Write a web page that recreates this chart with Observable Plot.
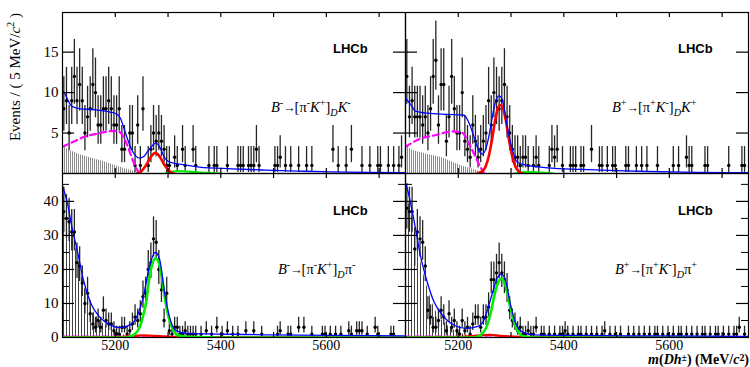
<!DOCTYPE html>
<html><head><meta charset="utf-8">
<script src="https://cdn.jsdelivr.net/npm/d3@7"></script>
<script src="https://cdn.jsdelivr.net/npm/@observablehq/plot@0.6"></script>
<style>
body{margin:0;background:#fff;}
#chart{position:relative;width:750px;height:367px;overflow:hidden;font-family:"Liberation Serif","Times New Roman",serif;color:#000;}
.panel{position:absolute;}
.lbl{position:absolute;white-space:nowrap;line-height:1;}
.lbl sup{font-size:70%;vertical-align:0;position:relative;top:-0.55em;}
.lbl sub{font-size:70%;vertical-align:0;position:relative;top:0.35em;}
.lbl sup.low{top:-0.3em;}
.lhcb{font-family:"Liberation Sans",Arial,sans-serif;font-weight:bold;font-size:13px;}
.decay{font-size:14.5px;}
.arr{font-size:85%;letter-spacing:-1px;}
</style></head><body><div id="chart"></div>
<script>
// ---------- binning ----------
const binLow = 5100, binWidth = 5;
const xDomain = [5100, 5750];
const xTickValues = [5200, 5300, 5400, 5500, 5600, 5700];
const xTickLabels = [5200, 5400, 5600];
const yTopLabels = [5, 10, 15];
const yTopTicks = [5, 10, 15];
const yBotLabels = [0, 10, 20, 30, 40];
const yBotTicks = [10, 20, 30, 40];
const yBotMinor = [5, 15, 25, 35, 45];

// ---------- data counts (5 MeV bins, 5100-5750) ----------
const countsTL = [
 8, 9, 5, 9,12, 9,11, 9, 5, 7,
 8,11,10, 6, 6, 8, 8, 9, 8, 6,
 6, 8, 3, 3, 0, 5, 5, 1, 6, 1,
 8, 0, 1, 3, 5, 4, 5, 4, 3, 1,
 1, 0, 2, 1, 0, 3, 1, 0, 0, 3,
 1, 0, 0, 0, 0, 1, 0, 1, 1, 0,
 0, 0, 1, 0, 0, 0, 1, 1, 1, 0,
 1, 1, 1, 3, 1, 0, 0, 0, 0, 0,
 1, 1, 2, 0, 1, 0, 1, 0, 0, 1,
 0, 0, 1, 0, 1, 0, 0, 0, 0, 0,
 0, 0, 3, 0, 1, 0, 0, 1, 0, 3,
 0, 0, 0, 1, 0, 0, 1, 0, 0, 1,
 1, 0, 0, 1, 0, 1, 0, 1, 2, 0];
const countsTR = [
12, 7, 9, 7, 7, 7, 6, 7, 5, 8,
12,14, 6,11,11, 4, 7,12, 8, 5,
 5,10, 4, 3, 2, 6, 4, 2, 3, 4,
 5, 9, 6,10, 9, 8, 9,11, 7, 5,
 3, 2, 2, 1, 2, 2, 1, 0, 1, 2,
 1, 0, 0, 0, 1, 3, 2, 3, 0, 1,
 0, 0, 1, 1, 1, 0, 1, 1, 0, 0,
 3, 0, 0, 1, 1, 0, 1, 0, 1, 1,
 0, 0, 0, 1, 1, 0, 0, 1, 0, 1,
 0, 1, 0, 0, 0, 1, 0, 0, 0, 0,
 0, 1, 0, 1, 0, 0, 2, 1, 1, 0,
 0, 0, 0, 1, 1, 0, 0, 0, 0, 0,
 0, 0, 1, 0, 0, 0, 0, 1, 1, 0];
const countsBL = [
37,35,34,31,31,22,21,16,10,13,
 7, 4, 3, 5, 3, 8, 5, 4, 4, 2,
 1, 1, 3, 3, 1, 2, 4, 6, 5, 7,
12,13,20,22,29,28,20,14, 5,13,
 2, 1, 3, 3, 1, 1, 2, 1, 1, 1,
 1, 0, 1, 0, 2, 0, 1, 0, 3, 0,
 1, 0, 2, 0, 1, 0, 1, 0, 0, 2,
 0, 0, 2, 0, 0, 1, 0, 0, 0, 0,
 0, 1, 2, 0, 0, 1, 1, 0, 0, 3,
 0, 3, 0, 0, 1, 0, 0, 0, 1, 1,
 0, 1, 0, 1, 0, 1, 0, 0, 2, 1,
 0, 2, 2, 2, 0, 1, 0, 0, 3, 1,
 0, 0, 0, 0, 1, 1, 0, 0, 0, 0];
const countsBR = [
38,37,37,26,31,29,28,21, 8, 6,
 3, 3, 5, 8, 6, 2, 7, 3, 5, 2,
 1, 5, 2, 3, 1, 4, 6, 6, 3, 6,
 6, 9,17,17,19,22,19,17,14, 8,
 5, 4, 2, 3, 1, 1, 2, 1, 1, 3,
 0, 1, 1, 0, 1, 0, 1, 0, 1, 1,
 2, 1, 0, 1, 0, 1, 1, 0, 1, 0,
 1, 0, 1, 0, 1, 2, 0, 1, 0, 1,
 0, 1, 0, 0, 1, 0, 1, 0, 1, 0,
 1, 0, 1, 0, 1, 1, 0, 1, 0, 1,
 0, 1, 0, 1, 1, 0, 1, 0, 1, 0,
 1, 0, 1, 1, 0, 1, 0, 1, 1, 0,
 1, 0, 1, 0, 1, 1, 3, 0, 1, 0];

// ---------- fit components [mass, events] ----------
const totalTL = [[5100,10.2],[5105,9.8],[5110,9.1],[5118,8.3],[5134,8.0],[5159,7.9],[5190,7.6],[5204,7.3],[5210,6.8],[5215,5.9],[5224,4.1],[5234,2.6],[5246,1.9],[5254,2.1],[5262,2.8],[5271,3.5],[5277,3.75],[5284,3.3],[5293,2.0],[5303,1.4],[5328,1.1],[5359,0.8],[5421,0.58],[5484,0.42],[5546,0.3],[5609,0.2],[5680,0.13],[5750,0.1]];
const sigTL = [[5241,0],[5246,0.07],[5251,0.4],[5256,0.8],[5261,1.3],[5266,1.9],[5271,2.35],[5276,2.55],[5281,2.35],[5286,1.9],[5291,1.3],[5296,0.8],[5301,0.4],[5306,0.15],[5311,0]];
const misTL = [[5295,0],[5300,0.1],[5310,0.25],[5320,0.3],[5330,0.28],[5345,0.2],[5360,0.12],[5380,0.05],[5400,0]];
const partTL = [[5100,3.3],[5120,3.9],[5140,4.5],[5171,5.0],[5195,5.25],[5205,5.2],[5212,4.9],[5218,4.2],[5224,3.3],[5230,2.2],[5236,1.2],[5242,0.4],[5246,0]];
const hatchTL = [[5100,3.6],[5110,3.0],[5120,2.7],[5140,2.2],[5171,1.6],[5200,1.0],[5220,0.55],[5234,0.3],[5246,0.05],[5250,0]];

const totalTR = [[5100,9.3],[5109,8.6],[5119,7.7],[5141,7.45],[5179,7.3],[5211,7.2],[5220,6.3],[5230,4.5],[5239,2.8],[5246,2.4],[5255,3.7],[5262,6.0],[5268,8.2],[5277,9.6],[5284,9.0],[5293,5.7],[5303,2.8],[5312,1.4],[5331,1.0],[5369,0.7],[5432,0.5],[5500,0.35],[5559,0.25],[5650,0.15],[5750,0.1]];
const sigTR = [[5236,0],[5246,0.3],[5252,0.9],[5258,2.2],[5264,4.2],[5270,6.6],[5276,8.2],[5280,8.45],[5284,8.2],[5290,6.6],[5296,4.2],[5302,2.2],[5308,0.9],[5314,0.3],[5322,0]];
const misTR = [[5308,0],[5315,0.1],[5325,0.18],[5340,0.16],[5360,0.08],[5380,0]];
const partTR = [[5100,3.3],[5128,4.3],[5154,4.7],[5189,5.2],[5208,5.0],[5220,3.7],[5233,2.0],[5242,0.8],[5249,0]];
const hatchTR = [[5100,4.0],[5110,3.0],[5128,2.6],[5166,2.0],[5204,1.0],[5236,0.37],[5249,0]];

const totalBL = [[5100,44.6],[5109,39.7],[5118,32.4],[5128,25.5],[5140,16.7],[5153,10.3],[5171,5.9],[5190,3.7],[5209,2.9],[5228,3.7],[5240,5.9],[5253,11.8],[5265,21.1],[5276,25.0],[5284,23.0],[5293,13.7],[5303,5.9],[5315,2.0],[5334,1.2],[5390,1.0],[5484,0.8],[5609,0.6],[5750,0.5]];
const sigBL = [[5100,0],[5222,0],[5235,0.8],[5246,2.9],[5253,6.5],[5259,10.8],[5265,18],[5270,21.5],[5276,23.3],[5282,22.2],[5288,18],[5293,12.7],[5298,8],[5303,4.9],[5310,2.2],[5315,1.0],[5325,0.4],[5340,0.2],[5360,0.1],[5400,0],[5750,0]];
const misBL = [[5100,0],[5200,0.1],[5230,0.4],[5250,0.6],[5270,0.5],[5300,0.3],[5350,0.15],[5450,0.05],[5750,0]];
const partBL = [[5100,0.3],[5150,0.3],[5200,0.25],[5240,0.1],[5260,0],[5750,0]];
const hatchBL = [[5100,43],[5109,38.5],[5118,31.5],[5128,24.5],[5140,15.8],[5153,9.5],[5171,5.0],[5190,2.7],[5209,1.2],[5228,0.3],[5240,0]];

const totalBR = [[5100,45],[5102,44.4],[5109,40],[5119,32],[5128,24.3],[5141,16.4],[5154,10.5],[5170,6.6],[5192,3.6],[5214,2.7],[5236,3.2],[5249,5.2],[5261,11.1],[5274,17.5],[5282,18.6],[5290,16.5],[5299,9.6],[5309,4.1],[5322,1.6],[5344,0.8],[5432,0.6],[5600,0.45],[5750,0.3]];
const sigBR = [[5100,0],[5230,0],[5243,0.8],[5255,3.7],[5262,7.5],[5268,12.1],[5277,16.7],[5282,17.3],[5290,15.0],[5299,8.6],[5309,3.2],[5318,0.8],[5331,0.1],[5345,0],[5750,0]];
const misBR = [[5100,0],[5200,0.2],[5240,0.6],[5260,0.8],[5280,0.5],[5320,0.2],[5400,0.05],[5750,0]];
const partBR = [[5100,0.3],[5200,0.2],[5260,0],[5750,0]];
const hatchBR = [[5100,43],[5109,38],[5119,30.5],[5128,23],[5141,15],[5154,9],[5170,5],[5192,2.2],[5214,0.8],[5236,0.2],[5250,0]];

// ---------- helpers ----------
const toPts = arr => arr.map(([m, v]) => ({m, v}));
function binPoints(counts) {
  return counts.map((n, i) => ({
    m: binLow + binWidth * (i + 0.5), n,
    lo: n - Math.sqrt(n - 0.25), hi: n + 1 + Math.sqrt(n + 0.75)
  })).filter(d => d.n > 0);
}
const SERIF = "Liberation Serif, Times New Roman, serif";

function makePanel(cfg) {
  const {pid, counts, total, sig, sigColor, mis, misColor, part, hatch, yMax,
         yMajor, yMinor, yLabels, xLabels, width, height, margin, hatchStep, hatchColor} = cfg;
  const fw = width - margin.left - margin.right;
  const fh = height - margin.top - margin.bottom;
  const pts = binPoints(counts);
  const line = (arr, opts) => Plot.line(toPts(arr), {x: "m", y: "v", curve: "monotone-x", clip: true, ...opts});
  const marks = [
    Plot.areaY(toPts(hatch), {x: "m", y: "v", fill: `url(#hatch-${pid})`, curve: "monotone-x", clip: true}),
    Plot.ruleX(pts, {x: "m", y1: "lo", y2: "hi", stroke: "#262626", strokeWidth: 1.3, clip: true}),
    Plot.dot(pts, {x: "m", y: "n", r: 1.7, fill: "#000", stroke: null, clip: true}),
    line(part, {stroke: "#ff00ff", strokeWidth: 2.2, strokeDasharray: "6,4"}),
    line(mis, {stroke: misColor, strokeWidth: 2.2}),
    line(sig, {stroke: sigColor, strokeWidth: 2.6}),
    line(total, {stroke: "#0000ff", strokeWidth: 1.3}),
    Plot.frame({stroke: "#000", strokeWidth: 1.2}),
    Plot.tickY(yMajor, {y: d => d, insetRight: fw - 12, stroke: "#000", strokeWidth: 1.2}),
    Plot.tickY(yMajor, {y: d => d, insetLeft: fw - 12, stroke: "#000", strokeWidth: 1.2}),
    Plot.tickY(yMinor, {y: d => d, insetRight: fw - 7, stroke: "#000"}),
    Plot.tickY(yMinor, {y: d => d, insetLeft: fw - 7, stroke: "#000"}),
    Plot.tickX(xTickValues, {x: d => d, insetBottom: fh - 5, stroke: "#000", strokeWidth: 1.2}),
    Plot.tickX(xTickValues, {x: d => d, insetTop: fh - 5, stroke: "#000", strokeWidth: 1.2})
  ];
  if (yLabels) marks.push(Plot.axisY(yLabels, {tickSize: 0, tickPadding: 4, fontSize: 15, fontFamily: SERIF, label: null, tickFormat: d => String(d)}));
  if (xLabels) marks.push(Plot.axisX(xLabels, {tickSize: 0, tickPadding: 3, fontSize: 14, fontFamily: SERIF, label: null, tickFormat: d => String(d)}));
  const plot = Plot.plot({
    width, height,
    marginLeft: margin.left, marginRight: margin.right, marginTop: margin.top, marginBottom: margin.bottom,
    style: {background: "transparent", overflow: "visible", fontFamily: SERIF, color: "#000"},
    x: {domain: xDomain, ...(xLabels ? {label: null} : {axis: null})},
    y: {domain: [0, yMax], ...(yLabels ? {label: null} : {axis: null})},
    marks
  });
  const ns = "http://www.w3.org/2000/svg";
  const defs = document.createElementNS(ns, "defs");
  const pat = document.createElementNS(ns, "pattern");
  pat.setAttribute("id", `hatch-${pid}`);
  pat.setAttribute("patternUnits", "userSpaceOnUse");
  pat.setAttribute("width", hatchStep);
  pat.setAttribute("height", 4);
  const r = document.createElementNS(ns, "rect");
  r.setAttribute("x", 0); r.setAttribute("y", 0);
  r.setAttribute("width", 1); r.setAttribute("height", 4);
  r.setAttribute("fill", hatchColor);
  pat.appendChild(r); defs.appendChild(pat);
  plot.insertBefore(defs, plot.firstChild);
  return plot;
}

const chart = document.getElementById("chart");
function place(node, left, top) {
  node.classList.add("panel");
  node.style.left = left + "px"; node.style.top = top + "px";
  chart.appendChild(node);
}

const topH = 173, botH = 194;
place(makePanel({pid: "tl", counts: countsTL, total: totalTL, sig: sigTL, sigColor: "#ff0000", mis: misTL, misColor: "#00ee00",
  part: partTL, hatch: hatchTL, yMax: 19.9, yMajor: yTopTicks, yMinor: [], yLabels: yTopLabels, xLabels: null,
  width: 405, height: topH, margin: {left: 62, right: 0, top: 12, bottom: 0}, hatchStep: 2, hatchColor: "#8a8a8a"}), 0, 0);
place(makePanel({pid: "tr", counts: countsTR, total: totalTR, sig: sigTR, sigColor: "#ff0000", mis: misTR, misColor: "#00ee00",
  part: partTR, hatch: hatchTR, yMax: 19.9, yMajor: yTopTicks, yMinor: [], yLabels: null, xLabels: null,
  width: 345, height: topH, margin: {left: 0, right: 2, top: 12, bottom: 0}, hatchStep: 2, hatchColor: "#8a8a8a"}), 405, 0);
place(makePanel({pid: "bl", counts: countsBL, total: totalBL, sig: sigBL, sigColor: "#00ee00", mis: misBL, misColor: "#ff0000",
  part: partBL, hatch: hatchBL, yMax: 48.2, yMajor: yBotTicks, yMinor: yBotMinor, yLabels: yBotLabels, xLabels: xTickLabels,
  width: 405, height: botH, margin: {left: 62, right: 0, top: 0, bottom: 30}, hatchStep: 3, hatchColor: "#444"}), 0, 173);
place(makePanel({pid: "br", counts: countsBR, total: totalBR, sig: sigBR, sigColor: "#00ee00", mis: misBR, misColor: "#ff0000",
  part: partBR, hatch: hatchBR, yMax: 48.2, yMajor: yBotTicks, yMinor: yBotMinor, yLabels: null, xLabels: xTickLabels,
  width: 345, height: botH, margin: {left: 0, right: 2, top: 0, bottom: 30}, hatchStep: 3, hatchColor: "#444"}), 405, 173);

// ---------- text labels ----------
function label(html, cls, style) {
  const d = document.createElement("div");
  d.className = "lbl " + cls;
  d.innerHTML = html;
  Object.assign(d.style, style);
  chart.appendChild(d);
  return d;
}
label("LHCb", "lhcb", {left: "333px", top: "42px"});
label("LHCb", "lhcb", {left: "678px", top: "42px"});
label("LHCb", "lhcb", {left: "333px", top: "204px"});
label("LHCb", "lhcb", {left: "678px", top: "204px"});

const ARROW = '<span class="arr">→</span>';
label(`<i>B</i><sup>-</sup>${ARROW}[π<sup>-</sup><i>K</i><sup>+</sup>]<sub><i>D</i></sub><i>K</i><sup>-</sup>`, "decay", {left: "271px", top: "100px"});
label(`<i>B</i><sup>+</sup>${ARROW}[π<sup>+</sup><i>K</i><sup>-</sup>]<sub><i>D</i></sub><i>K</i><sup>+</sup>`, "decay", {left: "612px", top: "100px"});
label(`<i>B</i><sup>-</sup>${ARROW}[π<sup>-</sup><i>K</i><sup>+</sup>]<sub><i>D</i></sub>π<sup>-</sup>`, "decay", {left: "278px", top: "262px"});
label(`<i>B</i><sup>+</sup>${ARROW}[π<sup>+</sup><i>K</i><sup>-</sup>]<sub><i>D</i></sub>π<sup>+</sup>`, "decay", {left: "615px", top: "262px"});

label("Events / ( 5 MeV/<i>c</i><sup>2</sup> )", "", {left: "15px", top: "77px", fontSize: "15px",
  transform: "translate(-50%,-50%) rotate(-90deg)"});
label("<i>m</i>(<i>Dh</i><sup class=\"low\">±</sup>) (MeV/<i>c</i><sup class=\"low\">2</sup>)", "", {right: "1px", top: "353px", fontSize: "14px", fontWeight: "bold"});
</script></body></html>
